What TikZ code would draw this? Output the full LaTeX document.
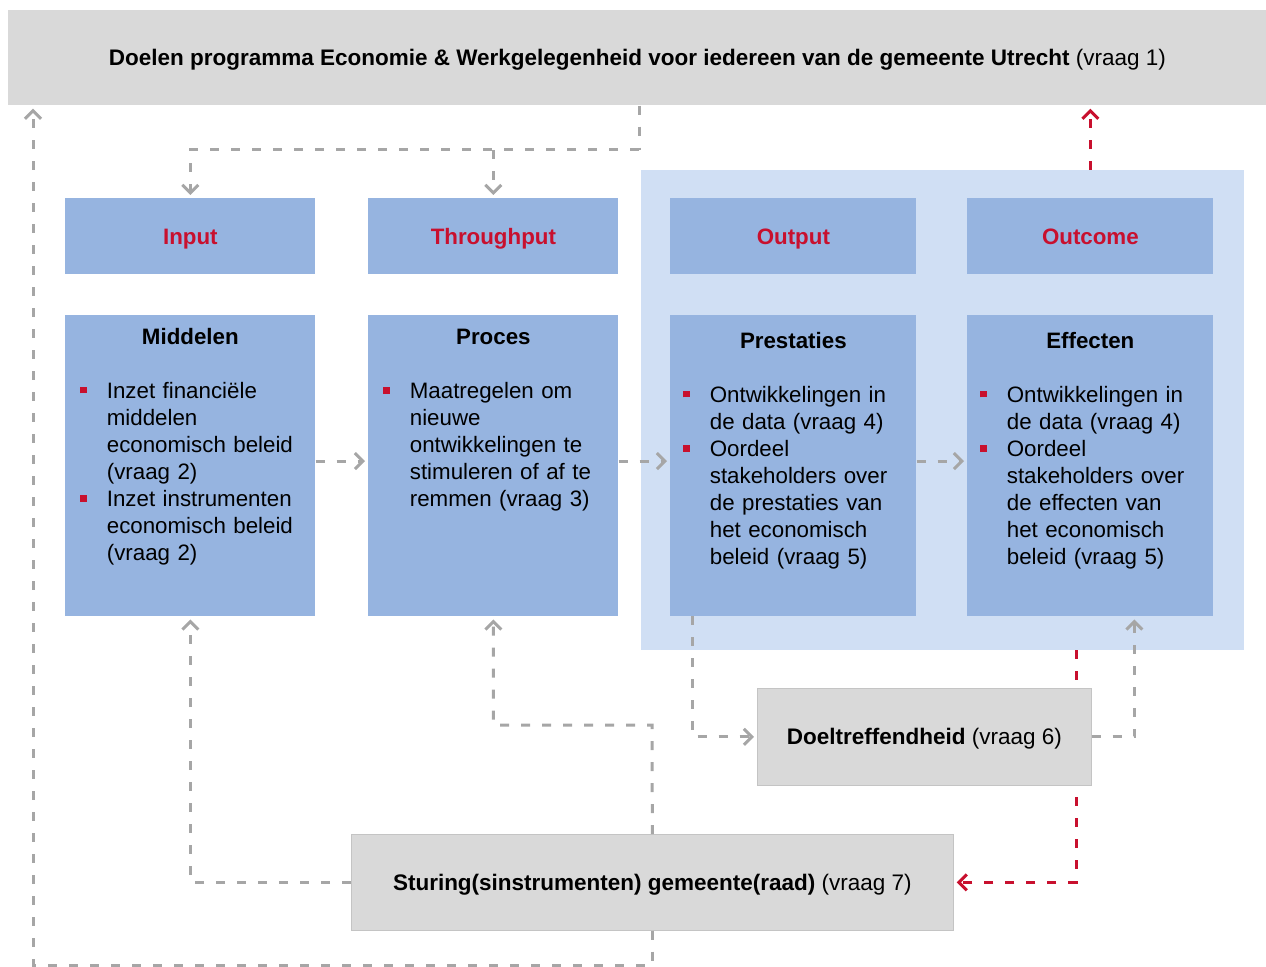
\documentclass[tikz,border=0pt]{standalone}
\usepackage{fontspec}
\setmainfont{Liberation Sans}
\usetikzlibrary{arrows.meta,positioning}
\definecolor{grijsvlak}{HTML}{D9D9D9}
\definecolor{randgrijs}{HTML}{C4C4C4}
\definecolor{paneelblauw}{HTML}{D0DFF4}
\definecolor{blokblauw}{HTML}{96B4E0}
\definecolor{rood}{HTML}{C8102E}
\definecolor{lijngrijs}{HTML}{A6A6A6}
\newcommand{\kop}[1]{{\centering\strut\textbf{#1}\par}\vspace{\baselineskip}}
\newcommand{\punt}[1]{\par\noindent\hangindent=5.3mm\hangafter=1\makebox[5.3mm][l]{\textcolor{rood}{\rule[0.95mm]{1.3mm}{1.3mm}}}{\def\\{\newline}#1}\par}
\tikzset{
  pijl/.style={draw=lijngrijs, line width=0.6mm, dash pattern=on 1.8mm off 2.4mm,
    -{Straight Barb[length=1.6mm,width=3.2mm]}, shorten >=0.6mm},
  lijn/.style={draw=lijngrijs, line width=0.6mm, dash pattern=on 1.8mm off 2.4mm},
  roodpijl/.style={pijl, draw=rood}
}
\begin{document}
\begin{tikzpicture}[x=0.2mm,y=-0.2mm,
    vlak/.style={fill=grijsvlak, inner sep=0pt, text height=11.43pt, text depth=2.34pt,
      font=\fontsize{12.8}{15.4}\selectfont},
    kopblok/.style={fill=blokblauw, text=rood, minimum width=50mm, minimum height=15.2mm,
      inner sep=0pt, anchor=north west, text height=11.43pt, text depth=2.34pt,
      font=\fontsize{12.7}{15.4}\selectfont\bfseries},
    blok/.style={fill=blokblauw, minimum width=50mm, minimum height=60.2mm, inner sep=0pt},
    inhoud/.style={anchor=north, text width=44mm, align=left, inner sep=0pt,
      font=\fontsize{12.7}{15.4}\selectfont}]
  \useasboundingbox (0,0) rectangle (1266,967);
  %\draw[help lines] (0,0) grid[step=100] (1266,967);

  \node[vlak, minimum width=251.6mm, minimum height=19mm, anchor=north west] (doelen) at (8,10)
    {\textbf{Doelen programma Economie \& Werkgelegenheid voor iedereen van de gemeente Utrecht} (vraag 1)};
  \node[fill=paneelblauw, minimum width=120.6mm, minimum height=96mm, inner sep=0pt, anchor=north west] (paneel) at (641,170) {};

  % kolommen
  \node[kopblok] (input) at (65,198) {Input};
  \node[kopblok] (throughput) at (368,198) {Throughput};
  \node[kopblok, minimum width=49.2mm] (output) at (670,198) {Output};
  \node[kopblok, minimum width=49.2mm] (outcome) at (967,198) {Outcome};

  \node[blok, below=8mm of input] (middelen) {};
  \node[blok, below=8mm of throughput] (proces) {};
  \node[blok, minimum width=49.2mm, below=8mm of output] (prestaties) {};
  \node[blok, minimum width=49.2mm, below=8mm of outcome] (effecten) {};

  \node[inhoud] (middelen-tekst) at ([yshift=-2mm]middelen.north) {\kop{Middelen}%
    \punt{Inzet financiële\\middelen\\economisch beleid\\(vraag 2)}%
    \punt{Inzet instrumenten\\economisch beleid\\(vraag 2)}};
  \node[inhoud] (proces-tekst) at ([yshift=-2.1mm]proces.north) {\kop{Proces}%
    \punt{Maatregelen om\\nieuwe\\ontwikkelingen te\\stimuleren of af te\\remmen (vraag 3)}};
  \node[inhoud] (prestaties-tekst) at ([yshift=-2.8mm]prestaties.north) {\kop{Prestaties}%
    \punt{Ontwikkelingen in\\de data (vraag 4)}%
    \punt{Oordeel\\stakeholders over\\de prestaties van\\het economisch\\beleid (vraag 5)}};
  \node[inhoud] (effecten-tekst) at ([yshift=-2.8mm]effecten.north) {\kop{Effecten}%
    \punt{Ontwikkelingen in\\de data (vraag 4)}%
    \punt{Oordeel\\stakeholders over\\de effecten van\\het economisch\\beleid (vraag 5)}};

  \node[vlak, draw=randgrijs, minimum width=120.4mm, minimum height=19.2mm, anchor=north west] (sturing) at (351,834)
    {\textbf{Sturing(sinstrumenten) gemeente(raad)} (vraag 7)};

  % rode lijnen
  \draw[roodpijl] (paneel.north -| effecten.north) -- (doelen.south -| effecten.north);
  \coordinate (roodstart) at (1076,650);
  \draw[roodpijl] (roodstart) |- (sturing.east);

  \node[vlak, draw=randgrijs, minimum width=66.8mm, minimum height=19.4mm, anchor=north west] (doel) at (757,688)
    {\textbf{Doeltreffendheid} (vraag 6)};

  % grijze lijnen
  \coordinate (splits) at (639,150);
  \draw[lijn] (doelen.south -| splits) -- (splits);
  \draw[pijl] (splits) -| (input.north);
  \draw[pijl] (splits -| throughput.north) -- (throughput.north);

  \draw[pijl] ([yshift=0.9mm]middelen.east) -- ([yshift=0.9mm]proces.west);
  \draw[pijl] ([yshift=0.9mm]proces.east) -- ([yshift=0.9mm]prestaties.west);
  \draw[pijl] ([yshift=0.9mm]prestaties.east) -- ([yshift=0.9mm]effecten.west);

  \draw[pijl] ([xshift=4.4mm]prestaties.south west) |- (doel.west);
  \draw[pijl] (doel.east) -| ([xshift=8.8mm]effecten.south);

  \coordinate (knik) at (652,725);
  \draw[pijl] (sturing.north) -- (knik) -| (proces.south);
  \draw[pijl] (sturing.west) -| (middelen.south);
  \coordinate (hoek) at (33,965);
  \draw[pijl] (sturing.south) |- (hoek) -- (doelen.south -| hoek);
\end{tikzpicture}
\end{document}
